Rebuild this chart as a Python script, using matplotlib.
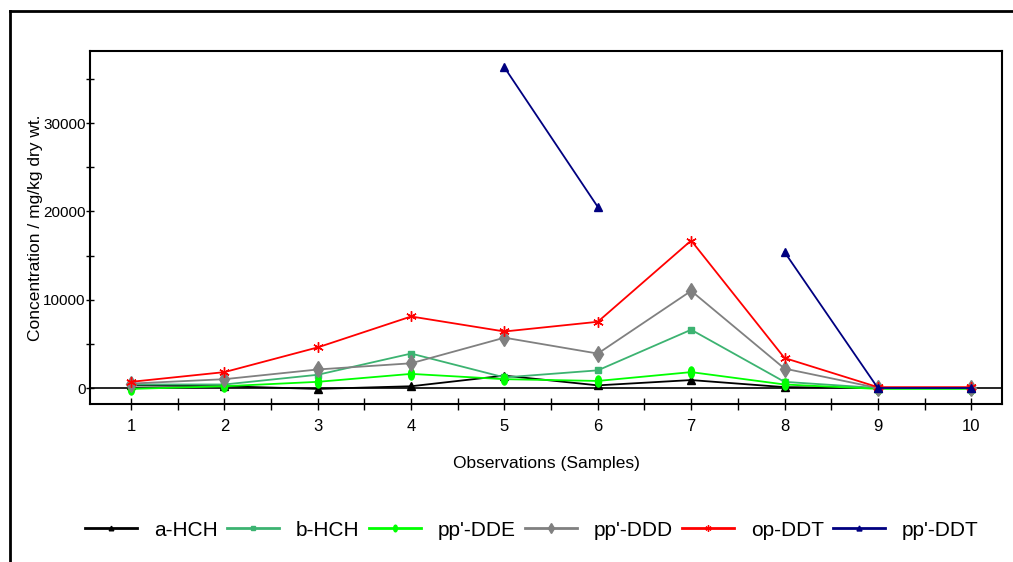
import numpy as np
import matplotlib
matplotlib.use("Agg")
import matplotlib.pyplot as plt
from matplotlib.path import Path
from matplotlib.lines import Line2D
from matplotlib.ticker import MultipleLocator

plt.rcParams['font.family'] = ['Liberation Sans', 'DejaVu Sans']

samples = [1, 2, 3, 4, 5, 6, 7, 8, 9, 10]
a_hch = [300, 200, -100, 200, 1400, 300, 900, 100, 0, 0]
b_hch = [400, 400, 1500, 3900, 1200, 2000, 6600, 700, 0, 0]
pp_dde = [-100, 200, 700, 1600, 1000, 800, 1800, 400, -100, -100]
pp_ddd = [500, 1000, 2100, 2800, 5700, 3900, 11000, 2200, 0, 0]
op_ddt = [700, 1800, 4600, 8100, 6400, 7500, 16700, 3400, 100, 100]
pp_ddt = [np.nan, np.nan, np.nan, np.nan, 36300, 20500, np.nan, 15400, 0, 0]

ellipse = Path.unit_circle().transformed(matplotlib.transforms.Affine2D().scale(0.55, 1.0))

series = [
    ("a-HCH", a_hch, "black", "^", 5.5),
    ("b-HCH", b_hch, "#3cb371", "s", 5),
    ("pp'-DDE", pp_dde, "#00ff00", ellipse, 8),
    ("pp'-DDD", pp_ddd, "gray", "d", 8),
    ("op-DDT", op_ddt, "red", (6, 2, 0), 7.5),
    ("pp'-DDT", pp_ddt, "navy", "^", 6),
]

fig = plt.figure(figsize=(10.13, 5.62), dpi=100)
ax = fig.add_axes([90 / 1013, 1 - 404 / 562, 912 / 1013, 353 / 562])

handles = []
for name, vals, col, mk, ms in series:
    ax.plot(samples, vals, color=col, marker=mk, markersize=ms, lw=1.3,
            markeredgecolor=col, markerfacecolor=col)
    handles.append(Line2D([], [], color=col, marker=mk, markersize=ms * 0.6, lw=2,
                          markeredgecolor=col, markerfacecolor=col, label=name))

ax.axhline(0, color="black", lw=1.2, zorder=0)
ax.set_xlim(0.56, 10.33)
ax.set_ylim(-1810, 38160)
ax.set_xticks(samples)
ax.xaxis.set_minor_locator(MultipleLocator(0.5))
ax.set_yticks([0, 10000, 20000, 30000])
ax.yaxis.set_minor_locator(MultipleLocator(5000))
ax.tick_params(axis='both', which='both', direction='inout', color='black', width=1)
ax.tick_params(axis='y', which='both', length=6)
ax.tick_params(axis='y', which='major', labelsize=11, pad=0)
ax.tick_params(axis='x', which='both', length=8)
ax.tick_params(axis='x', which='major', labelsize=12, pad=6.5)
for lab in ax.get_yticklabels():
    lab.set_family(['Liberation Sans Narrow', 'Liberation Sans'])
for s in ax.spines.values():
    s.set_linewidth(1.5)
ax.set_xlabel("Observations (Samples)", fontsize=12.5, labelpad=16)
ax.set_ylabel("Concentration / mg/kg dry wt.", fontsize=12.5)
ax.yaxis.set_label_coords(-0.0515, 0.5)

fig.legend(handles=handles, loc='center', bbox_to_anchor=(532 / 1013, 1 - 530 / 562), ncol=6,
           frameon=False, fontsize=15, handlelength=2.5, columnspacing=0.45, handletextpad=0.8)

fig.add_artist(Line2D([10 / 1013, 10 / 1013], [0, 1 - 11 / 562], color='black', lw=2,
                      transform=fig.transFigure))
fig.add_artist(Line2D([10 / 1013, 1], [1 - 11 / 562, 1 - 11 / 562], color='black', lw=2,
                      transform=fig.transFigure))

fig.savefig("out.png", dpi=100)
